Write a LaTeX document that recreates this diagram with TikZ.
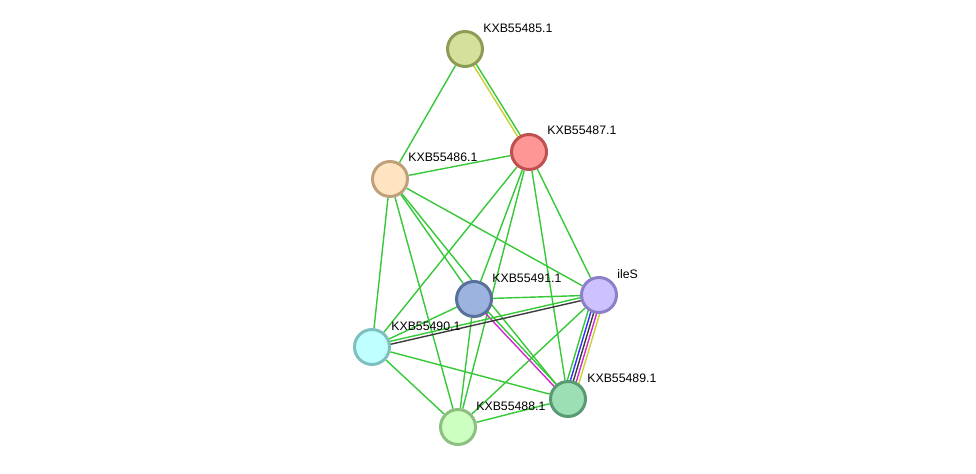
\documentclass[tikz,border=0pt]{standalone}
\usepackage{fontspec}
\setmainfont{Liberation Sans}
\usepackage{tikz}
\usetikzlibrary{calc,backgrounds}

\definecolor{egreen}{RGB}{55,200,55}
\definecolor{eyellow}{RGB}{200,210,50}
\definecolor{emagenta}{RGB}{210,40,210}
\definecolor{eblue}{RGB}{50,50,245}
\definecolor{edark}{RGB}{60,60,60}

\tikzset{
  prot/.style={circle, draw, line width=1.7pt, minimum size=0.7cm, inner sep=0pt},
  lbl/.style={anchor=west, inner sep=0pt, font=\fontsize{7}{8}\selectfont},
  link/.style={line width=0.8pt, draw=egreen},
}
% one line of a multi-coloured link, shifted sideways by #3
\newcommand{\plink}[4]{\draw[link, draw=#4] ($(#1)!#3!90:(#2)$) -- ($(#2)!#3!-90:(#1)$);}

\begin{document}
\begin{tikzpicture}[x=0.02cm, y=-0.02cm]
    \useasboundingbox (0,0) rectangle (976,473);
    % proteins
    \node[prot, fill={rgb,255:red,212;green,224;blue,155}, draw={rgb,255:red,140;green,156;blue,85}] (n485) at (465,49) {};
    \node[prot, fill={rgb,255:red,255;green,150;blue,150}, draw={rgb,255:red,192;green,80;blue,80}] (n487) at (529,152) {};
    \node[prot, fill={rgb,255:red,255;green,228;blue,194}, draw={rgb,255:red,192;green,160;blue,122}] (n486) at (390,179) {};
    \node[prot, fill={rgb,255:red,156;green,178;blue,223}, draw={rgb,255:red,88;green,112;blue,154}] (n491) at (474,299) {};
    \node[prot, fill={rgb,255:red,205;green,194;blue,255}, draw={rgb,255:red,141;green,128;blue,200}] (nile) at (599,295) {};
    \node[prot, fill={rgb,255:red,192;green,255;blue,255}, draw={rgb,255:red,126;green,191;blue,191}] (n490) at (372,347) {};
    \node[prot, fill={rgb,255:red,157;green,223;blue,181}, draw={rgb,255:red,90;green,154;blue,114}] (n489) at (568,399) {};
    \node[prot, fill={rgb,255:red,205;green,255;blue,192}, draw={rgb,255:red,140;green,191;blue,128}] (n488) at (458,427) {};

    % names
    \node[lbl] (t485) at ([shift={(18,-21)}]n485) {KXB55485.1};
    \node[lbl] (t487) at ([shift={(18,-22)}]n487) {KXB55487.1};
    \node[lbl] (t486) at ([shift={(18,-22)}]n486) {KXB55486.1};
    \node[lbl] (t491) at ([shift={(18,-21)}]n491) {KXB55491.1};
    \node[lbl] (tile) at ([shift={(18,-21)}]nile) {ileS};
    \node[lbl] (t490) at ([shift={(19,-21)}]n490) {KXB55490.1};
    \node[lbl] (t489) at ([shift={(19,-21)}]n489) {KXB55489.1};
    \node[lbl] (t488) at ([shift={(18,-21)}]n488) {KXB55488.1};

    \begin{pgfonlayer}{background}
    % single links
    \foreach \a/\b in {n485/n486, n486/n487, n486/n490, n486/n488, n486/n491, n486/n489, n486/nile,
                       n487/n490, n487/n491, n487/n488, n487/n489, n487/nile,
                       n491/nile, n491/n490, n491/n488, nile/n488,
                       n490/n489, n490/n488, n488/n489}
        \draw[link] (\a) -- (\b);
    % multi-coloured links
    \plink{n485}{n487}{0.85pt}{egreen}
    \plink{n485}{n487}{-0.85pt}{eyellow}
    \plink{n491}{n489}{0.85pt}{egreen}
    \plink{n491}{n489}{-0.85pt}{emagenta}
    \plink{nile}{n490}{-0.85pt}{egreen}
    \plink{nile}{n490}{0.85pt}{edark}
    \plink{nile}{n489}{-3.4pt}{egreen}
    \plink{nile}{n489}{-1.7pt}{eblue}
    \plink{nile}{n489}{0pt}{edark}
    \plink{nile}{n489}{1.7pt}{emagenta}
    \plink{nile}{n489}{3.4pt}{eyellow}
    \end{pgfonlayer}
\end{tikzpicture}
\end{document}
